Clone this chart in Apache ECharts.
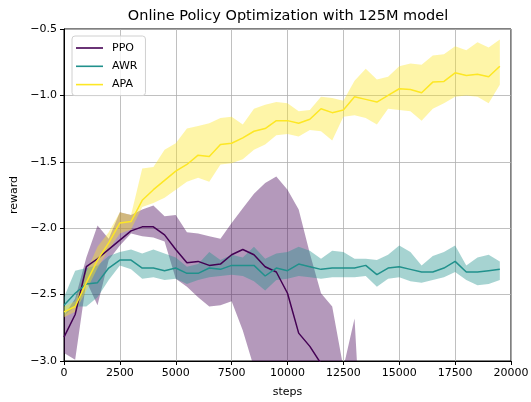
<!DOCTYPE html>
<html>
<head>
<meta charset="utf-8">
<script src="https://cdn.jsdelivr.net/npm/echarts@6/dist/echarts.min.js"></script>
<style>
html,body{margin:0;padding:0;background:#fff;}
#chart{width:531px;height:402px;}
</style>
</head>
<body>
<div id="chart"></div>
<script>
// 训练步数
var steps = [0,500,1000,1500,2000,2500,3000,3500,4000,4500,
	5000,5500,6000,6500,7000,7500,8000,8500,9000,9500,
	10000,10500,11000,11500,12000,12500,13000,13500,14000,14500,
	15000,15500,16000,16500,17000,17500,18000,18500,19000,19500];

// PPO (掉出下边界后被裁剪)
var ppoMean = [-2.82,-2.65,-2.29,-2.23,-2.16,-2.09,-2.02,-1.99,-1.99,-2.05,
	-2.16,-2.26,-2.25,-2.28,-2.27,-2.20,-2.16,-2.20,-2.29,-2.33,
	-2.49,-2.79,-2.89,-3.02,-3.15,-3.28,-3.40,-3.50];
var ppoUpper = [-2.66,-2.53,-2.22,-1.98,-2.08,-1.88,-1.90,-1.86,-1.83,-1.91,
	-1.90,-2.03,-2.04,-2.06,-2.08,-1.96,-1.85,-1.74,-1.66,-1.61,
	-1.71,-1.86,-2.19,-2.49,-2.59,-3.05,-2.68,-4.20];
var ppoLower = [-2.94,-2.99,-2.40,-2.58,-2.24,-2.13,-2.04,-2.06,-2.07,-2.10,
	-2.38,-2.44,-2.52,-2.59,-2.58,-2.55,-2.77,-3.05,-3.40,-3.60,
	-3.80,-4.00,-4.00,-4.00,-4.00,-4.00,-4.00,-4.30];

// AWR
var awrMean = [-2.58,-2.49,-2.42,-2.41,-2.30,-2.24,-2.24,-2.30,-2.30,-2.32,
	-2.30,-2.34,-2.34,-2.30,-2.31,-2.28,-2.28,-2.28,-2.36,-2.30,
	-2.32,-2.27,-2.29,-2.31,-2.30,-2.30,-2.30,-2.28,-2.35,-2.30,
	-2.29,-2.31,-2.33,-2.33,-2.30,-2.25,-2.33,-2.33,-2.32,-2.31];
var awrUpper = [-2.52,-2.32,-2.30,-2.28,-2.21,-2.18,-2.16,-2.19,-2.16,-2.19,
	-2.22,-2.29,-2.27,-2.18,-2.24,-2.20,-2.22,-2.14,-2.23,-2.19,
	-2.18,-2.14,-2.17,-2.23,-2.17,-2.18,-2.23,-2.23,-2.24,-2.20,
	-2.13,-2.18,-2.28,-2.21,-2.18,-2.13,-2.28,-2.22,-2.20,-2.25];
var awrLower = [-2.66,-2.59,-2.59,-2.52,-2.39,-2.28,-2.31,-2.38,-2.37,-2.39,
	-2.38,-2.42,-2.39,-2.37,-2.36,-2.35,-2.36,-2.40,-2.47,-2.39,
	-2.38,-2.36,-2.37,-2.38,-2.37,-2.37,-2.37,-2.36,-2.44,-2.38,
	-2.37,-2.40,-2.41,-2.39,-2.37,-2.33,-2.39,-2.43,-2.42,-2.39];

// APA
var apaMean = [-2.63,-2.59,-2.41,-2.24,-2.11,-1.96,-1.95,-1.79,-1.71,-1.64,
	-1.57,-1.52,-1.45,-1.46,-1.37,-1.36,-1.32,-1.27,-1.25,-1.19,
	-1.19,-1.21,-1.18,-1.10,-1.13,-1.11,-1.01,-1.03,-1.05,-1.00,
	-0.95,-0.955,-0.98,-0.90,-0.895,-0.83,-0.85,-0.84,-0.86,-0.78];
var apaUpper = [-2.59,-2.55,-2.33,-2.14,-2.03,-1.88,-1.90,-1.55,-1.54,-1.41,
	-1.36,-1.25,-1.23,-1.21,-1.17,-1.16,-1.22,-1.10,-1.07,-1.05,
	-1.06,-1.12,-1.11,-1.01,-1.02,-1.04,-0.89,-0.80,-0.88,-0.86,
	-0.78,-0.76,-0.77,-0.70,-0.69,-0.63,-0.66,-0.60,-0.64,-0.58];
var apaLower = [-2.67,-2.63,-2.47,-2.30,-2.16,-2.04,-2.01,-1.84,-1.81,-1.77,
	-1.71,-1.65,-1.62,-1.65,-1.52,-1.51,-1.48,-1.41,-1.37,-1.30,
	-1.29,-1.31,-1.26,-1.27,-1.34,-1.16,-1.15,-1.17,-1.22,-1.10,
	-1.11,-1.12,-1.19,-1.10,-1.06,-1.01,-1.00,-1.01,-1.06,-0.92];

var colors = {PPO:'#440154', AWR:'#21918c', APA:'#fde725'};
var font = 'DejaVu Sans';

function pairs(vals){
	var out = [];
	for(var i = 0; i < vals.length; i++){
		out.push([steps[i], vals[i]]);
	}
	return out;
}

// 阴影带: 上界正向 + 下界反向 组成一个多边形
function band(name, lower, upper){
	var data = [];
	for(var i = 0; i < lower.length; i++){
		data.push([steps[i], lower[i], upper[i]]);
	}
	return {
		name: name+'_band', type: 'custom', data: data, clip: true, silent: true, z: 1,
		encode: {x: 0, y: [1, 2]},
		renderItem: function(params, api){
			if(params.dataIndex !== 0) return;
			var pts = [];
			for(var i = 0; i < data.length; i++){
				pts.push(api.coord([data[i][0], data[i][2]]));
			}
			for(var j = data.length - 1; j >= 0; j--){
				pts.push(api.coord([data[j][0], data[j][1]]));
			}
			return {
				type: 'polygon',
				shape: {points: pts},
				style: {fill: echarts.color.modifyAlpha(colors[name], 0.4), stroke: null}
			};
		}
	};
}

function line(name, vals){
	return {name: name, type:'line', data: pairs(vals), symbol:'none', z:3,
		lineStyle:{color: colors[name], width:1.5}, itemStyle:{color: colors[name]}};
}

var series = [
	band('PPO', ppoLower, ppoUpper),
	band('AWR', awrLower, awrUpper),
	band('APA', apaLower, apaUpper),
	line('PPO', ppoMean), line('AWR', awrMean), line('APA', apaMean)
];

var chart = echarts.init(document.getElementById('chart'), null, {renderer:'canvas'});
chart.setOption({
	animation: false,
	title: {
		text: 'Online Policy Optimization with 125M model',
		left: 288, top: 9, padding: 0, textAlign: 'center',
		textStyle: {fontFamily: font, fontSize: 14.5, fontWeight: 'normal', color: '#000'}
	},
	legend: {
		data: ['PPO','AWR','APA'],
		orient: 'vertical',
		left: 72, top: 36,
		padding: [5, 8, 4, 4],
		icon: 'rect',
		itemWidth: 27, itemHeight: 1.6, itemGap: 4.3,
		backgroundColor: 'rgba(255,255,255,0.8)',
		borderColor: '#d0d0d0', borderWidth: 1, borderRadius: 3,
		textStyle: {fontFamily: font, fontSize: 11, color: '#000', lineHeight: 14, padding: [0,0,0,4]}
	},
	grid: {
		left: 64, right: 20, top: 29, bottom: 41,
		show: true, borderColor: '#000', borderWidth: 1,
		containLabel: false, outerBoundsMode: 'none'
	},
	xAxis: {
		type: 'value', min: 0, max: 20000, interval: 2500,
		name: 'steps', nameLocation: 'middle', nameGap: 26,
		nameTextStyle: {fontFamily: font, fontSize: 11, color: '#000'},
		axisLine: {show: true, onZero: false, lineStyle: {color: '#000'}},
		axisTick: {show: true, inside: false, length: 4, lineStyle: {color: '#000'}},
		axisLabel: {margin: 7, fontFamily: font, fontSize: 11, color: '#000',
			formatter: function(v){ return String(v); }},
		splitLine: {show: true, lineStyle: {color: '#b0b0b0', width: 0.8}}
	},
	yAxis: {
		type: 'value', min: -3, max: -0.5, interval: 0.5,
		name: 'reward', nameLocation: 'middle', nameGap: 43,
		nameTextStyle: {fontFamily: font, fontSize: 11, color: '#000'},
		axisLine: {show: true, onZero: false, lineStyle: {color: '#000'}},
		axisTick: {show: true, inside: false, length: 4, lineStyle: {color: '#000'}},
		axisLabel: {margin: 7, fontFamily: font, fontSize: 11, color: '#000',
			formatter: function(v){ return v.toFixed(1).replace('-', '\u2212'); }},
		splitLine: {show: true, lineStyle: {color: '#b0b0b0', width: 0.8}}
	},
	series: series
});
</script>
</body>
</html>
